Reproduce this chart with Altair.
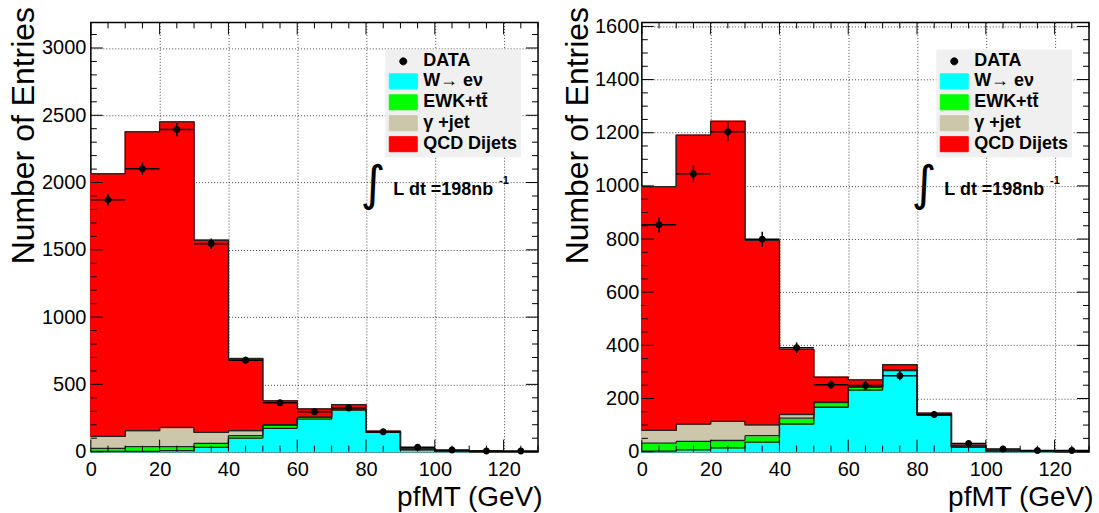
import altair as alt
import pandas as pd

# ---------------- data ----------------
bin_lo = [0, 10, 20, 30, 40, 50, 60, 70, 80, 90, 100, 110, 120]
bin_hi = [10, 20, 30, 40, 50, 60, 70, 80, 90, 100, 110, 120, 130]

series_names = ["W\u2192 e\u03bd", "EWK+tt\u0304", "\u03b3 +jet", "QCD Dijets"]
series_colors = ["#00ffff", "#00ff00", "#ccc6aa", "#ff0000"]
data_name = "DATA"

# left panel
left_w = [2, 2, 7, 32, 101, 173, 242, 309, 143, 15, 3, 1, 0]
left_ewk = [23, 35, 30, 30, 18, 25, 13, 4, 3, 1, 0, 0, 0]
left_gam = [89, 119, 143, 81, 37, 2, 2, 1, 0, 0, 0, 0, 0]
left_qcd = [1951, 2221, 2271, 1428, 536, 178, 60, 35, 6, 6, 2, 0, 0]
left_data = [1872, 2102, 2394, 1546, 680, 363, 297, 324, 148, 32, 12, 5, 4]
left_err = [43, 46, 49, 39, 26, 19, 17, 18, 12, 6, 3, 2, 2]

# right panel
right_w = [2, 7, 14, 36, 104, 167, 232, 305, 137, 17, 3, 1, 0]
right_ewk = [30, 32, 28, 24, 22, 18, 10, 3, 2, 1, 0, 0, 0]
right_gam = [48, 65, 72, 41, 14, 2, 2, 1, 0, 0, 0, 0, 0]
right_qcd = [917, 1087, 1129, 694, 245, 93, 26, 18, 6, 6, 2, 1, 0]
right_data = [854, 1046, 1204, 799, 391, 252, 249, 286, 140, 31, 10, 4, 4]
right_err = [29, 32, 35, 28, 20, 16, 16, 17, 12, 6, 3, 2, 2]

x_major = [0, 20, 40, 60, 80, 100, 120]
x_minor = [v for v in range(0, 131, 5) if v % 20 != 0]

W, H = 448, 430
FONT = "Liberation Sans"

RECT = "M-1.75,-0.94H1.75V0.94H-1.75Z"
DOT = "M-0.44,0A0.44,0.44,0,1,0,0.44,0A0.44,0.44,0,1,0,-0.44,0Z"


def panel(w, ewk, gam, qcd, data, err, ymax, y_major, y_minor, title_x, lab_pad):
    rows = []
    for k, vals in enumerate([w, ewk, gam, qcd]):
        for lo, hi, v in zip(bin_lo, bin_hi, vals):
            rows.append({"series": series_names[k], "order": k, "lo": lo, "hi": hi, "value": v})
    mc = pd.DataFrame(rows)
    dd = pd.DataFrame({"series": data_name, "lo": bin_lo, "hi": bin_hi, "value": data, "err": err})

    xs = alt.Scale(domain=[0, 130], nice=False, zero=False)
    ys = alt.Scale(domain=[0, ymax], nice=False)
    dom = [data_name] + series_names
    cs = alt.Scale(domain=dom, range=["black"] + series_colors)
    ss = alt.Scale(domain=dom, range=[DOT] + [RECT] * 4)

    leg = alt.Legend(
        orient="none", legendX=295, legendY=27, title=None,
        fillColor="#f0f0f0", padding=3, symbolSize=256,
        symbolStrokeColor="#333333", symbolStrokeWidth=1, symbolOpacity=1,
        symbolOffset=6, labelOffset=11,
        labelFont=FONT, labelFontSize=18, labelFontWeight="bold", labelColor="black",
        labelLimit=0, rowPadding=1,
    )

    xaxis = alt.Axis(
        values=x_major, grid=True, gridDash=[1, 2], gridColor="#444444", gridWidth=1,
        ticks=False, domain=False, labelFont=FONT, labelFontSize=20, labelColor="black",
        labelPadding=8, labelFlush=False, labelOverlap=False, labelBound=False, format="d",
        title="pfMT (GeV)", titleFont=FONT, titleFontSize=28, titleFontWeight="normal",
        titleColor="black", titleX=452, titleY=54, titleAlign="right",
        titleBaseline="alphabetic",
    )
    yaxis = alt.Axis(
        values=y_major, grid=True, gridDash=[1, 2], gridColor="#444444", gridWidth=1,
        ticks=False, domain=False, labelFont=FONT, labelFontSize=20, labelColor="black",
        labelPadding=lab_pad, labelFlush=False, labelOverlap=False, labelBound=False, format="d",
        title="Number of Entries", titleFont=FONT, titleFontSize=32, titleFontWeight="normal",
        titleColor="black", titleAngle=270, titleX=title_x, titleY=-16, titleAlign="right",
        titleBaseline="alphabetic",
    )

    base = alt.Chart(mc).transform_stack(
        stack="value", groupby=["lo"], as_=["y0", "y1"],
        sort=[alt.SortField("order", order="ascending")],
    )
    bars = base.mark_bar(opacity=1, strokeWidth=1.4).encode(
        x=alt.X("lo:Q", scale=xs, axis=xaxis),
        x2="hi:Q",
        y=alt.Y("y0:Q", scale=ys, axis=yaxis),
        y2="y1:Q",
        color=alt.Color("series:N", scale=cs, legend=leg),
        stroke=alt.Stroke("series:N", scale=cs, legend=None),
    )
    tops = base.mark_rule(color="#222222", strokeWidth=1.3).encode(
        x=alt.X("lo:Q", scale=xs), x2="hi:Q", y=alt.Y("y1:Q", scale=ys)
    )
    edges = base.transform_window(
        ny1="lead(y1)", groupby=["series"], sort=[alt.SortField("lo", order="ascending")]
    ).transform_filter("datum.ny1 != null").mark_rule(color="#222222", strokeWidth=1.3).encode(
        x=alt.X("hi:Q", scale=xs), y=alt.Y("y1:Q", scale=ys), y2="ny1:Q"
    )

    dbase = alt.Chart(dd).transform_calculate(
        center="(datum.lo + datum.hi) / 2",
        low="datum.value - datum.err",
        high="datum.value + datum.err",
    )
    hbar = dbase.mark_rule(color="black", strokeWidth=1.5).encode(
        x=alt.X("lo:Q", scale=xs), x2="hi:Q", y=alt.Y("value:Q", scale=ys)
    )
    vbar = dbase.mark_rule(color="black", strokeWidth=1.5).encode(
        x=alt.X("center:Q", scale=xs), y=alt.Y("low:Q", scale=ys), y2="high:Q"
    )
    pts = dbase.mark_point(filled=True, opacity=1, size=256, strokeWidth=0).encode(
        x=alt.X("center:Q", scale=xs),
        y=alt.Y("value:Q", scale=ys),
        color=alt.Color("series:N", scale=cs, legend=leg),
        shape=alt.Shape("series:N", scale=ss, legend=leg),
    )

    def ticks(vals, chan, pos, length):
        df = pd.DataFrame({"v": vals})
        c = alt.Chart(df).mark_rule(color="black", strokeWidth=1)
        if chan == "x":
            if pos == "bottom":
                return c.encode(x=alt.X("v:Q", scale=xs), y=alt.value(H), y2=alt.value(H - length))
            return c.encode(x=alt.X("v:Q", scale=xs), y=alt.value(0), y2=alt.value(length))
        if pos == "left":
            return c.encode(y=alt.Y("v:Q", scale=ys), x=alt.value(0), x2=alt.value(length))
        return c.encode(y=alt.Y("v:Q", scale=ys), x=alt.value(W), x2=alt.value(W - length))

    tick_layers = [
        ticks(x_major, "x", "bottom", 12), ticks(x_minor, "x", "bottom", 6),
        ticks(x_major, "x", "top", 12), ticks(x_minor, "x", "top", 6),
        ticks(y_major, "y", "left", 12), ticks(y_minor, "y", "left", 6),
        ticks(y_major, "y", "right", 12), ticks(y_minor, "y", "right", 6),
    ]

    ann = pd.DataFrame({"a": [0]})
    integ = alt.Chart(ann).mark_text(
        text="\u222b", font="DejaVu Sans", fontSize=48, fontWeight="normal", align="center",
        baseline="middle", color="black"
    ).encode(x=alt.value(283), y=alt.value(164))
    lumi = alt.Chart(ann).mark_text(
        text="L dt =198nb", font=FONT, fontSize=18, fontWeight="bold", align="left",
        baseline="alphabetic", color="black"
    ).encode(x=alt.value(303), y=alt.value(173))
    sup = alt.Chart(ann).mark_text(
        text="-1", font=FONT, fontSize=11, fontWeight="bold", align="left",
        baseline="alphabetic", color="black"
    ).encode(x=alt.value(409), y=alt.value(162))

    return alt.layer(bars, tops, edges, hbar, vbar, pts, *tick_layers, integ, lumi, sup).properties(
        width=W, height=H
    )


left = panel(left_w, left_ewk, left_gam, left_qcd, left_data, left_err, 3190,
             list(range(0, 3001, 500)), [v for v in range(0, 3191, 100) if v % 500 != 0], -57, 5)
right = panel(right_w, right_ewk, right_gam, right_qcd, right_data, right_err, 1615,
              list(range(0, 1601, 200)), [v for v in range(0, 1615, 50) if v % 200 != 0], -54, 3)

chart = alt.hconcat(left, right, spacing=104, bounds="flush").resolve_scale(
    color="independent", shape="independent", stroke="independent", x="independent", y="independent"
).resolve_legend(color="independent", shape="independent").configure_view(
    stroke="black", strokeWidth=1.5
).properties(
    padding={"left": 7, "top": 5, "right": 5, "bottom": 5}, background="white"
)

chart.save("out.html", embed_options={"renderer": "svg", "actions": False})
